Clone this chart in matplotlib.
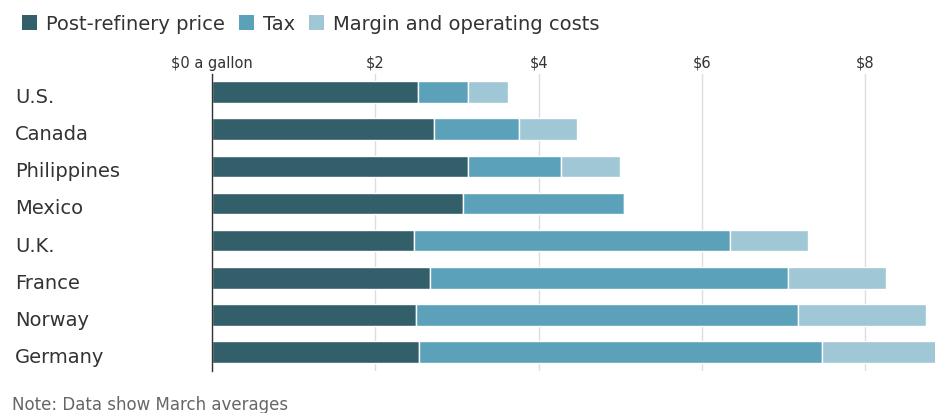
import matplotlib
matplotlib.use("Agg")
import matplotlib.pyplot as plt
from matplotlib.patches import Patch
from matplotlib.transforms import ScaledTranslation
import numpy as np

# fuel price breakdown, dollars a gallon
countries = ["U.S.", "Canada", "Philippines", "Mexico", "U.K.", "France", "Norway", "Germany"]
refinery = [2.52, 2.72, 3.13, 3.07, 2.48, 2.67, 2.50, 2.53]
tax = [0.61, 1.04, 1.15, 1.97, 3.87, 4.38, 4.68, 4.94]
margin = [0.50, 0.71, 0.72, 0.00, 0.95, 1.20, 1.57, 1.60]
series_names = ["Post-refinery price", "Tax", "Margin and operating costs"]
tick_vals = [0, 2, 4, 6, 8]
tick_labels = ["$0 a gallon", "$2", "$4", "$6", "$8"]

colors = ["#325f69", "#5aa1b9", "#a0c7d5"]
text_col = "#333333"

plt.rcParams["font.family"] = ["DejaVu Sans"]

fig = plt.figure(figsize=(9.35, 4.14), dpi=100)
ax = fig.add_axes([212 / 935, 1 - 372 / 414, 1 - 212 / 935, (372 - 75) / 414])

y = np.arange(len(countries))
left = np.zeros(len(countries))
for vals, col in zip([refinery, tax, margin], colors):
    vals = np.array(vals)
    ax.barh(y, vals, left=left, height=0.58, color=col, edgecolor="white", linewidth=1.0, zorder=3)
    left += vals

ax.set_xlim(0, (935 - 212) / 81.65)
ax.set_ylim(7.51, -0.485)

ax.xaxis.tick_top()
ax.set_xticks(tick_vals)
ax.set_xticklabels(tick_labels, fontsize=10.5, color=text_col)
ax.tick_params(axis="x", length=0, pad=3)
ax.grid(axis="x", color="#dddddd", linewidth=1, zorder=0)

# country labels start 15 px from the left edge of the figure
ax.set_yticks(y)
ax.set_yticklabels(countries, fontsize=14, color=text_col, ha="left")
ax.tick_params(axis="y", length=0, pad=(212 - 15) * 72 / 100)
shift = ScaledTranslation(0, -0.025, fig.dpi_scale_trans)
for lab in ax.get_yticklabels():
    lab.set_transform(lab.get_transform() + shift)

for s in ["top", "right", "bottom"]:
    ax.spines[s].set_visible(False)
ax.spines["left"].set_color(text_col)
ax.spines["left"].set_linewidth(1)
ax.spines["left"].set_zorder(4)

handles = [Patch(facecolor=c, edgecolor="none") for c in colors]
fig.legend(handles, series_names, loc="upper left", bbox_to_anchor=(0.005, 1.005),
           ncol=3, frameon=False, fontsize=14, handlelength=0.75, handleheight=0.85,
           handletextpad=0.5, columnspacing=0.7, labelcolor=text_col)

fig.text(12 / 935, 1 - 405 / 414, "Note: Data show March averages", fontsize=12,
         color="#666666", va="center", ha="left")

fig.savefig("out.png", dpi=100)
